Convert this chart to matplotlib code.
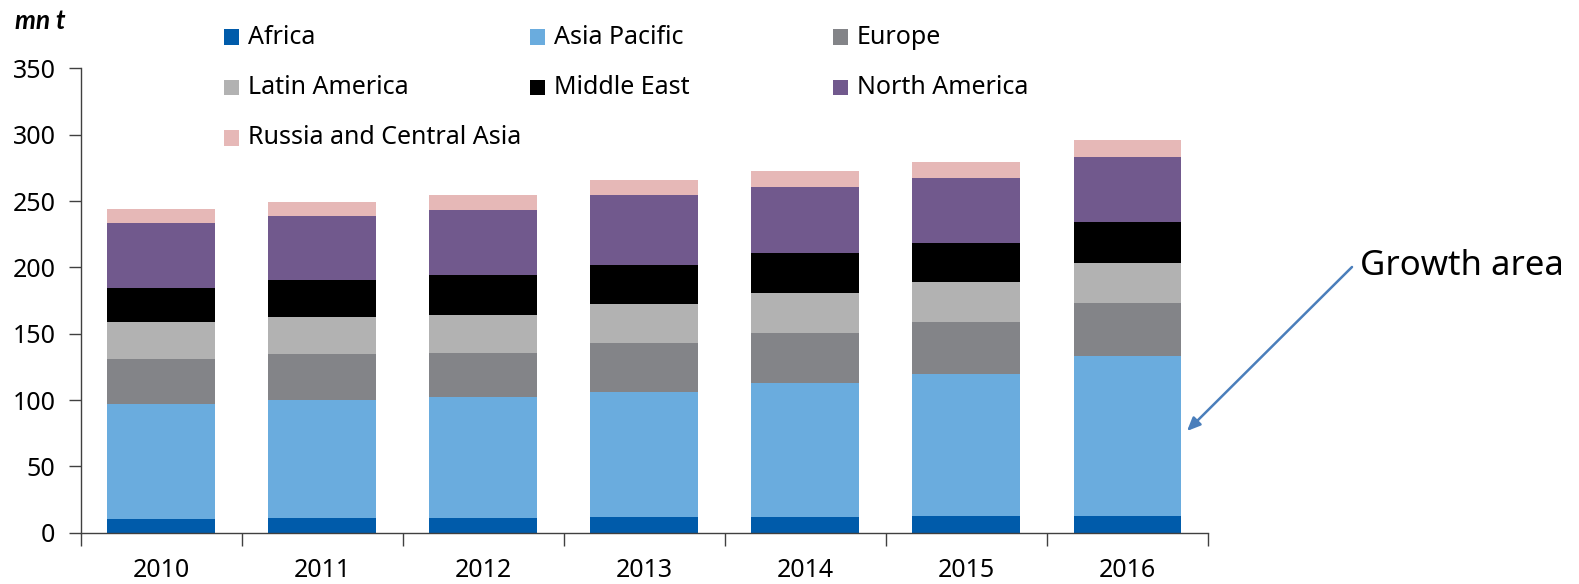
import matplotlib
matplotlib.use("Agg")
import matplotlib.pyplot as plt
import numpy as np
from matplotlib.patches import Rectangle
from matplotlib.ticker import MultipleLocator

plt.rcParams["font.family"] = ["Noto Sans", "DejaVu Sans"]

years = ["2010", "2011", "2012", "2013", "2014", "2015", "2016"]
regions = ["Africa", "Asia Pacific", "Europe", "Latin America",
           "Middle East", "North America", "Russia and Central Asia"]

africa = [10.3, 10.8, 10.8, 11.8, 11.6, 12.4, 12.6]
asia_pacific = [86.4, 89.2, 91.2, 94.5, 101.3, 107.6, 120.8]
europe = [34.6, 34.6, 33.6, 36.6, 37.6, 38.8, 39.8]
latin_america = [27.5, 28.3, 28.8, 29.9, 30.6, 30.3, 30.1]
middle_east = [25.7, 28.0, 29.6, 28.8, 29.8, 29.3, 31.3]
north_america = [49.3, 48.0, 49.5, 53.0, 50.0, 49.3, 49.0]
russia_central_asia = [10.2, 10.6, 11.3, 11.2, 11.6, 12.1, 12.7]

series = [africa, asia_pacific, europe, latin_america,
          middle_east, north_america, russia_central_asia]
colors = ["#005BAA", "#6AACDE", "#838488", "#B2B2B2",
          "#000000", "#71598D", "#E6B8B7"]

W, H = 1579, 584
fig = plt.figure(figsize=(W / 100, H / 100), dpi=100)
ax = fig.add_axes([80.6 / W, 51.3 / H, (1208 - 80.6) / W, (532.7 - 68.5) / H])

x = np.arange(len(years))
bottom = np.zeros(len(years))
for vals, col, name in zip(series, colors, regions):
    ax.bar(x, vals, width=0.67, bottom=bottom, color=col, edgecolor="none", label=name)
    bottom += np.array(vals)

ax.set_xlim(-0.5, len(years) - 0.5)
ax.set_ylim(0, 350)
ax.yaxis.set_major_locator(MultipleLocator(50))
ax.set_xticks(x)
ax.set_xticklabels(years)
ax.set_xticks(np.arange(-0.5, len(years)), minor=True)
ax.tick_params(axis="x", which="major", length=0, pad=18, labelsize=18, colors="black")
ax.tick_params(axis="x", which="minor", length=9, width=1, direction="out", color="#404040")
ax.tick_params(axis="y", length=9, width=1, direction="out", pad=9, labelsize=18, color="#404040")
for s in ["top", "right"]:
    ax.spines[s].set_visible(False)
for s in ["left", "bottom"]:
    ax.spines[s].set_color("#404040")
    ax.spines[s].set_linewidth(1)

# legend laid out row by row, like the original
col_x = [224, 530, 833]
row_y = [37, 87, 138]
for i, (name, col) in enumerate(zip(regions, colors)):
    r, c = divmod(i, 3)
    px, py = col_x[c], row_y[r]
    fig.patches.append(Rectangle((px / W, 1 - (py + 7.5) / H), 15 / W, 15 / H,
                                 transform=fig.transFigure, facecolor=col, edgecolor="none"))
    fig.text((px + 24) / W, 1 - py / H, name, fontsize=18, va="center", ha="left")

fig.text(15 / W, 1 - 21 / H, "mn t", fontsize=19, fontweight="bold", fontstyle="italic",
         family=["Lato", "DejaVu Sans"], va="center", ha="left")

fig.text(1360 / W, 1 - 266 / H, "Growth area", fontsize=25, va="center", ha="left")
ax.annotate("", xy=(1187 / W, 1 - 431 / H), xycoords="figure fraction",
            xytext=(1352 / W, 1 - 267 / H), textcoords="figure fraction",
            arrowprops=dict(arrowstyle="-|>,head_length=0.8,head_width=0.35",
                            color="#4A7EBB", lw=1.8, shrinkA=0, shrinkB=0))

fig.savefig("out.png", dpi=100)
